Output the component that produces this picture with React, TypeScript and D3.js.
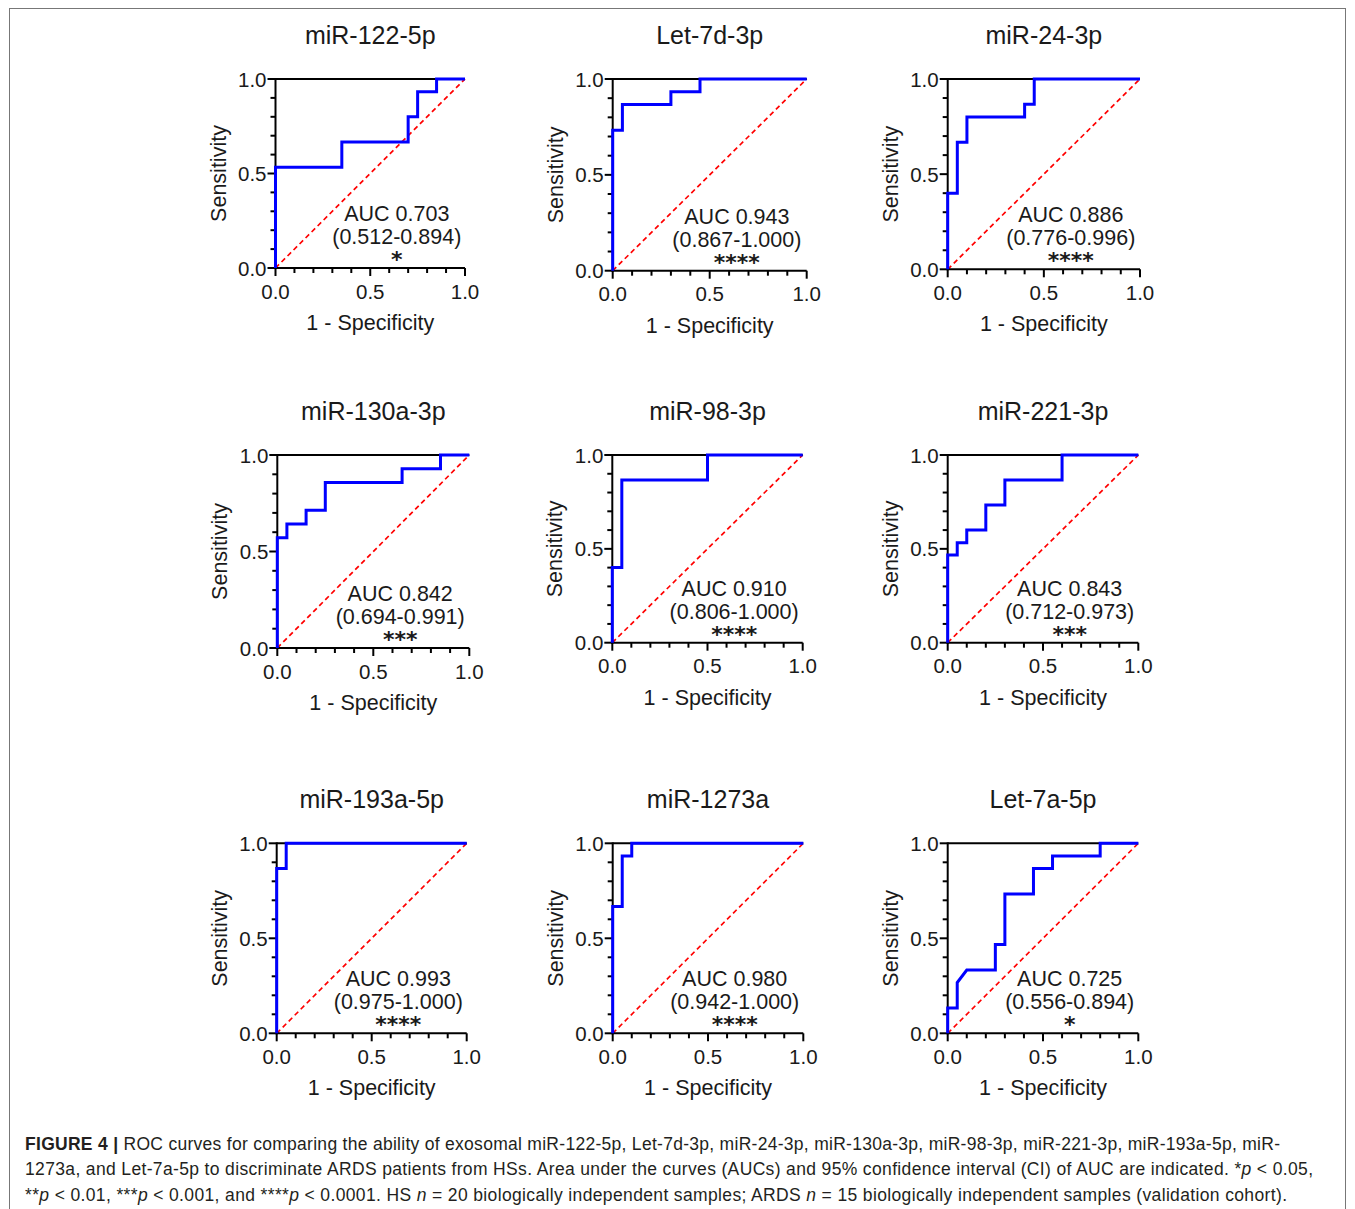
import React from "react";
import * as d3 from "d3";

// ---------- data ----------
const titles = ["miR-122-5p", "Let-7d-3p", "miR-24-3p", "miR-130a-3p", "miR-98-3p", "miR-221-3p", "miR-193a-5p", "miR-1273a", "Let-7a-5p"];
const aucLabels = ["AUC 0.703", "AUC 0.943", "AUC 0.886", "AUC 0.842", "AUC 0.910", "AUC 0.843", "AUC 0.993", "AUC 0.980", "AUC 0.725"];
const ciLabels = ["(0.512-0.894)", "(0.867-1.000)", "(0.776-0.996)", "(0.694-0.991)", "(0.806-1.000)", "(0.712-0.973)", "(0.975-1.000)", "(0.942-1.000)", "(0.556-0.894)"];
const stars = ["*", "****", "****", "***", "****", "***", "****", "****", "*"];

const fpr122 = [0, 0, 0.35, 0.35, 0.70, 0.70, 0.75, 0.75, 0.85, 0.85, 1];
const tpr122 = [0, 0.533, 0.533, 0.667, 0.667, 0.800, 0.800, 0.933, 0.933, 1, 1];
const fpr7d = [0, 0, 0.05, 0.05, 0.30, 0.30, 0.45, 0.45, 1];
const tpr7d = [0, 0.733, 0.733, 0.867, 0.867, 0.933, 0.933, 1, 1];
const fpr24 = [0, 0, 0.05, 0.05, 0.10, 0.10, 0.40, 0.40, 0.45, 0.45, 1];
const tpr24 = [0, 0.4, 0.4, 0.667, 0.667, 0.8, 0.8, 0.867, 0.867, 1, 1];
const fpr130 = [0, 0, 0.05, 0.05, 0.15, 0.15, 0.25, 0.25, 0.65, 0.65, 0.85, 0.85, 1];
const tpr130 = [0, 0.571, 0.571, 0.643, 0.643, 0.714, 0.714, 0.857, 0.857, 0.929, 0.929, 1, 1];
const fpr98 = [0, 0, 0.05, 0.05, 0.5, 0.5, 1];
const tpr98 = [0, 0.4, 0.4, 0.867, 0.867, 1, 1];
const fpr221 = [0, 0, 0.05, 0.05, 0.10, 0.10, 0.20, 0.20, 0.30, 0.30, 0.60, 0.60, 1];
const tpr221 = [0, 0.467, 0.467, 0.533, 0.533, 0.6, 0.6, 0.733, 0.733, 0.867, 0.867, 1, 1];
const fpr193 = [0, 0, 0.05, 0.05, 1];
const tpr193 = [0, 0.867, 0.867, 1, 1];
const fpr1273 = [0, 0, 0.05, 0.05, 0.10, 0.10, 1];
const tpr1273 = [0, 0.667, 0.667, 0.933, 0.933, 1, 1];
const fpr7a = [0, 0, 0.05, 0.05, 0.10, 0.25, 0.25, 0.30, 0.30, 0.45, 0.45, 0.55, 0.55, 0.80, 0.80, 1];
const tpr7a = [0, 0.133, 0.133, 0.267, 0.333, 0.333, 0.467, 0.467, 0.733, 0.733, 0.867, 0.867, 0.933, 0.933, 1, 1];

const fprs = [fpr122, fpr7d, fpr24, fpr130, fpr98, fpr221, fpr193, fpr1273, fpr7a];
const tprs = [tpr122, tpr7d, tpr24, tpr130, tpr98, tpr221, tpr193, tpr1273, tpr7a];

const majorTicks = [0, 0.5, 1];
const majorTickLabels = ["0.0", "0.5", "1.0"];
const minorTicks = [0.1, 0.2, 0.3, 0.4, 0.6, 0.7, 0.8, 0.9];

// ---------- layout (pixel boxes of the plot areas) ----------
const boxes = [
  [275.5, 79, 465, 268],
  [612.7, 79, 806.7, 270.7],
  [947.7, 79, 1140, 269.3],
  [277.3, 455, 469.3, 648],
  [612.3, 455, 802.7, 642.7],
  [947.7, 455, 1138.3, 642.7],
  [276.7, 843.3, 466.7, 1033.3],
  [612.7, 843.3, 803.3, 1033.3],
  [947.7, 843.3, 1138.3, 1033.3],
];

const FONT = "'Liberation Sans', Arial, Helvetica, sans-serif";
const TXT = "#1a1a1a";

function Panel({ i }: { i: number }) {
  const [l, t, r, b] = boxes[i];
  const x = d3.scaleLinear().domain([0, 1]).range([l, r]);
  const y = d3.scaleLinear().domain([0, 1]).range([b, t]);
  const pts = fprs[i].map((f, k) => [f, tprs[i][k]] as [number, number]);
  const line = d3.line<[number, number]>().x((d) => x(d[0])).y((d) => y(d[1]));
  const cx = x(0.64);
  return (
    <g>
      <text x={(l + r) / 2} y={t - 44 + 9} textAnchor="middle" fontSize={25} fill={TXT}>{titles[i]}</text>
      {/* diagonal reference */}
      <path d={line([[0, 0], [1, 1]]) || ""} stroke="#ff0000" strokeWidth={1.7} strokeDasharray="5,3.5" fill="none" />
      {/* axes */}
      <line x1={l} x2={l} y1={t - 1} y2={b + 1} stroke="#000" strokeWidth={2} />
      <line x1={l - 1} x2={r} y1={b} y2={b} stroke="#000" strokeWidth={2} />
      <line x1={l} x2={r} y1={t} y2={t} stroke="#000" strokeWidth={2} />
      {majorTicks.map((v, k) => (
        <g key={"m" + k}>
          <line x1={l - 8} x2={l} y1={y(v)} y2={y(v)} stroke="#000" strokeWidth={2} />
          <line x1={x(v)} x2={x(v)} y1={b} y2={b + 8} stroke="#000" strokeWidth={2} />
          <text x={l - 9} y={y(v) + 7.5} textAnchor="end" fontSize={20.5} fill={TXT}>{majorTickLabels[k]}</text>
          <text x={x(v)} y={b + 30.5} textAnchor="middle" fontSize={20.5} fill={TXT}>{majorTickLabels[k]}</text>
        </g>
      ))}
      {minorTicks.map((v, k) => (
        <g key={"n" + k}>
          <line x1={l - 5} x2={l} y1={y(v)} y2={y(v)} stroke="#000" strokeWidth={2} />
          <line x1={x(v)} x2={x(v)} y1={b} y2={b + 5} stroke="#000" strokeWidth={2} />
        </g>
      ))}
      {/* ROC curve */}
      <path d={line(pts) || ""} stroke="#0000ff" strokeWidth={3} fill="none" strokeLinejoin="miter" />
      {/* labels */}
      <text x={(l + r) / 2} y={b + 62} textAnchor="middle" fontSize={21.5} fill={TXT}>1 - Specificity</text>
      <text transform={`translate(${l - 50},${(t + b) / 2}) rotate(-90)`} textAnchor="middle" fontSize={21.5} fill={TXT}>Sensitivity</text>
      <text x={cx} y={b - 47} textAnchor="middle" fontSize={21.5} fill={TXT}>{aucLabels[i]}</text>
      <text x={cx} y={b - 24} textAnchor="middle" fontSize={21.5} fill={TXT}>{ciLabels[i]}</text>
      <text x={cx} y={b - 1} textAnchor="middle" fontSize={22} fontWeight="bold" fontFamily="'DejaVu Sans', sans-serif" fill={TXT}>{stars[i]}</text>
    </g>
  );
}

export default function App() {
  return (
    <svg width={1355} height={1209} style={{ position: "absolute", left: 0, top: 0, background: "#fff" }} fontFamily={FONT}>
      <rect x={0} y={0} width={1355} height={1209} fill="#fff" />
      <rect x={9.5} y={8.5} width={1336} height={1215} fill="none" stroke="#777" strokeWidth={1} />
      {titles.map((_, i) => <Panel key={i} i={i} />)}
      <g fontSize={17.5} fill="#231f20">
        <text x={25} y={1150} textLength={1255} lengthAdjust="spacing">
          <tspan fontWeight="bold">FIGURE 4 | </tspan>ROC curves for comparing the ability of exosomal miR-122-5p, Let-7d-3p, miR-24-3p, miR-130a-3p, miR-98-3p, miR-221-3p, miR-193a-5p, miR-
        </text>
        <text x={25} y={1175} textLength={1288} lengthAdjust="spacing">
          1273a, and Let-7a-5p to discriminate ARDS patients from HSs. Area under the curves (AUCs) and 95% confidence interval (CI) of AUC are indicated. *<tspan fontStyle="italic">p</tspan> &lt; 0.05,
        </text>
        <text x={25} y={1201} textLength={1262} lengthAdjust="spacing">
          **<tspan fontStyle="italic">p</tspan> &lt; 0.01, ***<tspan fontStyle="italic">p</tspan> &lt; 0.001, and ****<tspan fontStyle="italic">p</tspan> &lt; 0.0001. HS <tspan fontStyle="italic">n</tspan> = 20 biologically independent samples; ARDS <tspan fontStyle="italic">n</tspan> = 15 biologically independent samples (validation cohort).
        </text>
      </g>
    </svg>
  );
}
